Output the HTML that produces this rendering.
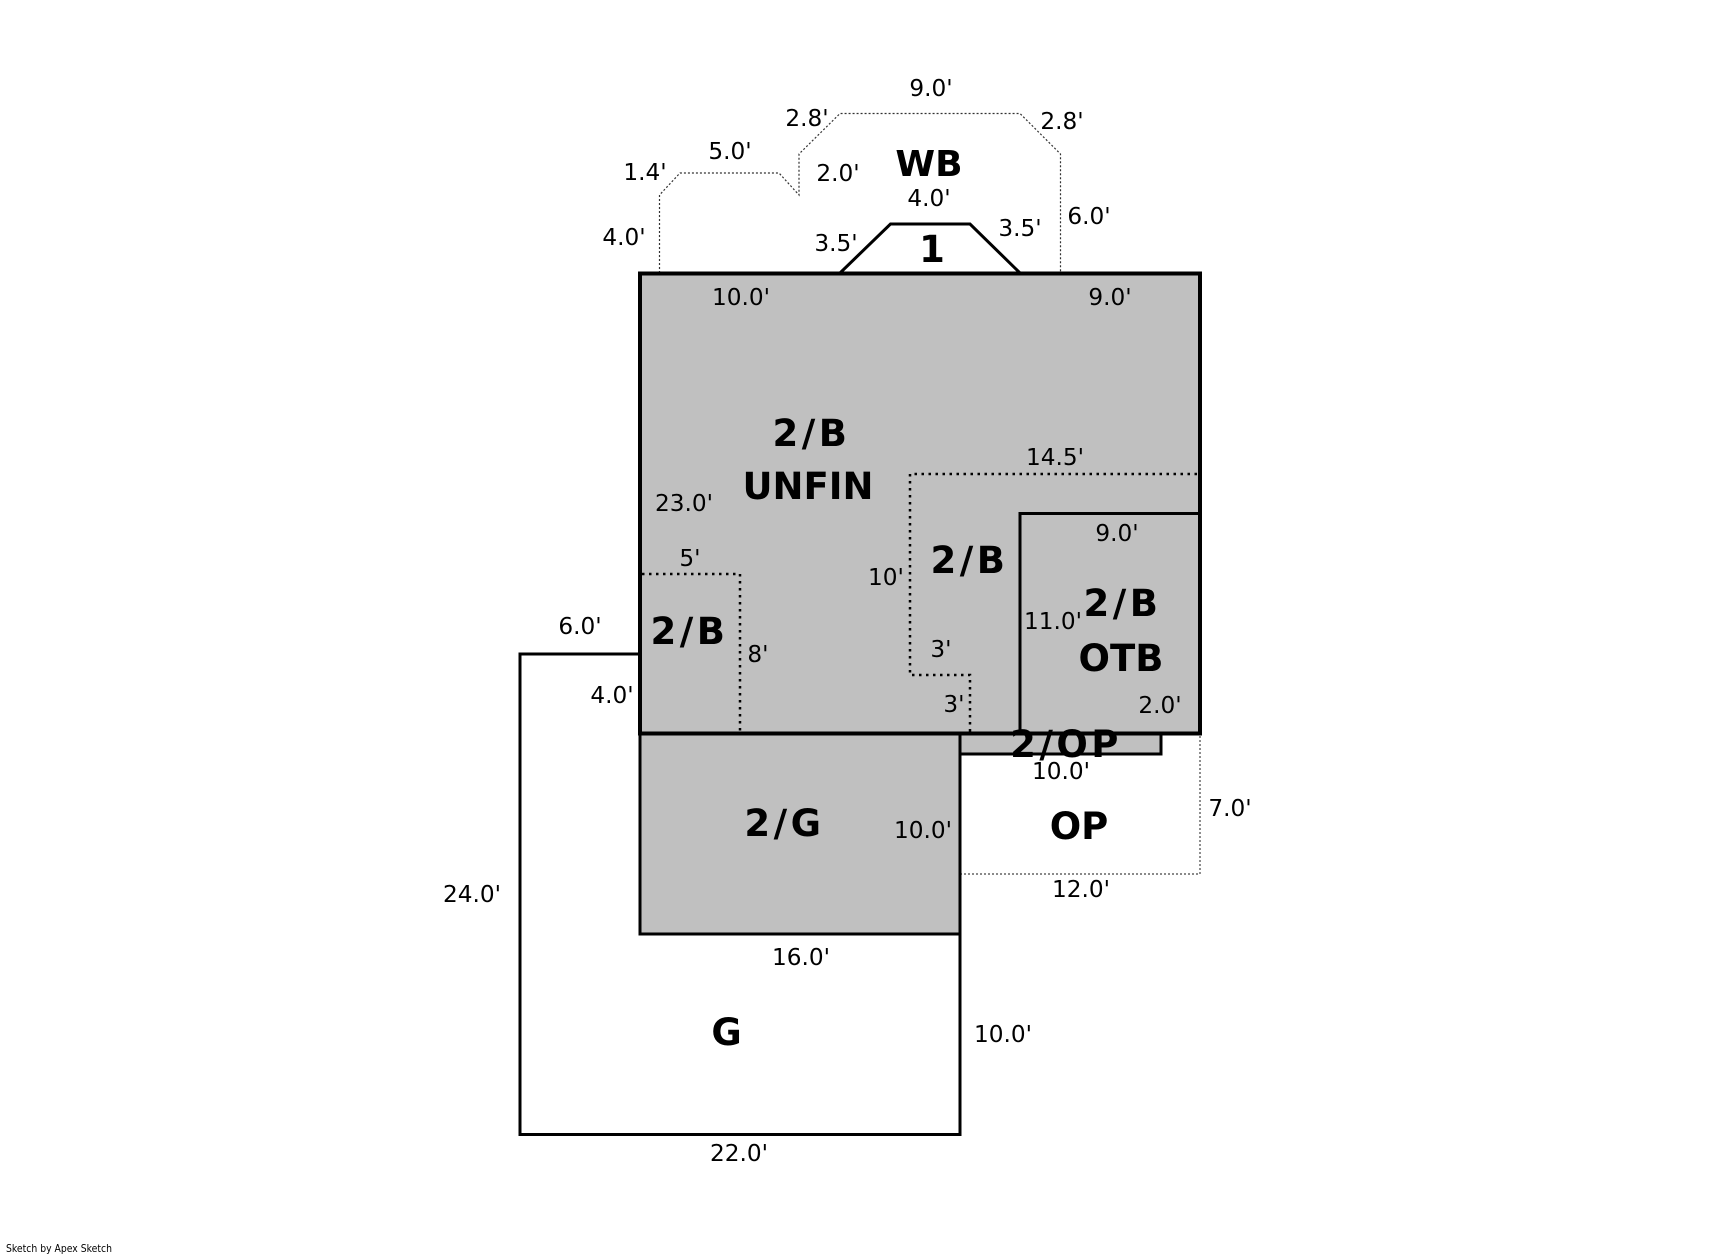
<!DOCTYPE html>
<html><head><meta charset="utf-8"><style>
html,body{margin:0;padding:0;background:#fff}
svg{display:block}
text{font-family:"DejaVu Sans","Liberation Sans",sans-serif;fill:#000;text-anchor:middle}
.d{font-size:23.2px}
.b{font-size:37px;font-weight:bold}
.s{letter-spacing:3.5px}
</style></head><body>
<svg width="1709" height="1254" viewBox="0 0 1709 1254" xmlns="http://www.w3.org/2000/svg">
<rect width="1709" height="1254" fill="#fff"/>
<!-- G -->
<path d="M640 654H520V1134.5H960V934" fill="#fff" stroke="#000" stroke-width="3"/>
<!-- OP -->
<path d="M960 874H1200V733" fill="none" stroke="#444" stroke-width="1.2" stroke-dasharray="2 2"/>
<!-- WB -->
<path d="M659.500 273V195L680 173H779L799 195V154L840 113.500H1020L1060.500 154V273" fill="none" stroke="#333" stroke-width="1.2" stroke-dasharray="2 2"/>
<!-- Trapezoid 1 -->
<path d="M840 273L890.500 224H970L1020 273" fill="#fff" stroke="#000" stroke-width="3"/>
<!-- 2/G -->
<rect x="640" y="733.500" width="320" height="200.500" fill="#c0c0c0" stroke="#000" stroke-width="3"/>
<!-- 2/OP -->
<rect x="960" y="733.500" width="201" height="20.500" fill="#c0c0c0" stroke="#000" stroke-width="3"/>
<!-- Main -->
<rect x="640" y="273.500" width="560" height="460" fill="#c0c0c0" stroke="#000" stroke-width="4"/>
<!-- OTB -->
<path d="M1020 733.500V513.500H1200" fill="none" stroke="#000" stroke-width="3"/>
<!-- dotted inner -->
<path d="M1197 474H910V675H970V733" fill="none" stroke="#000" stroke-width="2.500" stroke-dasharray="2.500 4.500"/>
<path d="M642 574H740V733" fill="none" stroke="#000" stroke-width="2.500" stroke-dasharray="2.500 4.500"/>
<!-- Labels -->
<g class="d">
<text x="931" y="96">9.0'</text>
<text x="807" y="126">2.8'</text>
<text x="1062" y="129">2.8'</text>
<text x="730" y="159">5.0'</text>
<text x="645" y="180">1.4'</text>
<text x="838" y="181">2.0'</text>
<text x="929" y="206">4.0'</text>
<text x="1089" y="224">6.0'</text>
<text x="1020" y="236">3.5'</text>
<text x="624" y="245">4.0'</text>
<text x="836" y="251">3.5'</text>
<text x="741" y="305">10.0'</text>
<text x="1110" y="305">9.0'</text>
<text x="1055" y="465">14.5'</text>
<text x="684" y="511">23.0'</text>
<text x="1117" y="541">9.0'</text>
<text x="690" y="566">5'</text>
<text x="886" y="585">10'</text>
<text x="1053" y="629">11.0'</text>
<text x="580" y="634">6.0'</text>
<text x="941" y="657">3'</text>
<text x="758" y="662">8'</text>
<text x="612" y="703">4.0'</text>
<text x="954" y="712">3'</text>
<text x="1160" y="713">2.0'</text>
<text x="1061" y="779">10.0'</text>
<text x="1230" y="816">7.0'</text>
<text x="923" y="838">10.0'</text>
<text x="1081" y="897">12.0'</text>
<text x="472" y="902">24.0'</text>
<text x="801" y="965">16.0'</text>
<text x="1003" y="1042">10.0'</text>
<text x="739" y="1161">22.0'</text>
</g>
<g class="b">
<text x="929" y="176" style="font-size:36px">WB</text>
<text x="932" y="262">1</text>
<text x="811.500" y="446" class="s">2/B</text>
<text x="808" y="499">UNFIN</text>
<text x="969.500" y="573" class="s">2/B</text>
<text x="1122.500" y="616" class="s">2/B</text>
<text x="689.500" y="644" class="s">2/B</text>
<text x="1121" y="671">OTB</text>
<text x="1066" y="757" class="s">2/OP</text>
<text x="784.500" y="836" class="s">2/G</text>
<text x="1079" y="839">OP</text>
<text x="726.500" y="1045">G</text>
</g>
<text x="6" y="1252" style="font-family:'DejaVu Sans',sans-serif;font-size:10.5px;text-anchor:start" textLength="106" lengthAdjust="spacingAndGlyphs">Sketch by Apex Sketch</text>
</svg>
</body></html>
